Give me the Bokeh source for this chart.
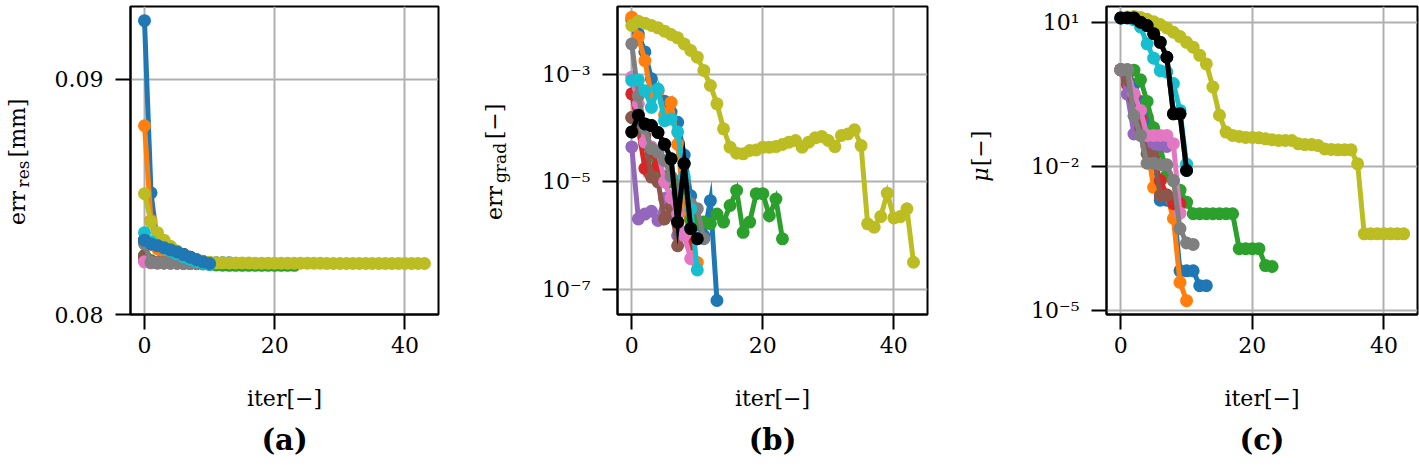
import math
from bokeh.plotting import figure
from bokeh.layouts import row, column
from bokeh.models import Range1d, FixedTicker, CustomJSTickFormatter, PrintfTickFormatter
from bokeh.core.properties import value
from bokeh.embed import file_html
from bokeh.resources import INLINE

# ---------------- data ----------------
run_colors = ["#1f77b4", "#ff7f0e", "#2ca02c", "#d62728", "#9467bd", "#8c564b",
              "#e377c2", "#7f7f7f", "#bcbd22", "#17becf", "#1f77b4", "#000000"]

# (a) residual error [mm]
res_run1 = [0.0925, 0.08517, 0.0830, 0.0825, 0.0823, 0.08225, 0.0822, 0.0822, 0.0822, 0.0822, 0.0822, 0.0822, 0.0822, 0.0822]
res_run2 = [0.08803, 0.0840, 0.0828, 0.0824, 0.0823, 0.08225, 0.0822, 0.0822, 0.0822, 0.0822, 0.0822]
res_run3 = [0.08252, 0.0823, 0.08222, 0.0822, 0.0822, 0.08219, 0.08218, 0.08217, 0.08216, 0.08215, 0.08213, 0.08211,
            0.0821, 0.08209, 0.08209, 0.08209, 0.08209, 0.08209, 0.08209, 0.08209, 0.08209, 0.08209, 0.08209, 0.08209]
res_run4 = [0.0824, 0.08222, 0.0822, 0.0822, 0.08219, 0.08219, 0.08218, 0.08218, 0.08218, 0.08218]
res_run5 = [0.0823, 0.0822, 0.0822, 0.08219, 0.08219, 0.08218, 0.08218, 0.08218]
res_run6 = [0.08248, 0.08225, 0.0822, 0.0822, 0.08219, 0.08219, 0.08218, 0.08218]
res_run7 = [0.08224, 0.0822, 0.08219, 0.08219, 0.08218, 0.08218, 0.08218, 0.08218, 0.08218, 0.08218]
res_run8 = [0.0830, 0.08222, 0.0822, 0.0822, 0.08219, 0.08219, 0.08218, 0.08218, 0.08218, 0.08218, 0.08218, 0.08218]
res_run9 = [0.08514, 0.08394, 0.08348, 0.08316, 0.0829, 0.0827, 0.0825, 0.0824, 0.08232, 0.08226, 0.08222,
            0.0822, 0.0822, 0.08219, 0.08219, 0.08219, 0.08219, 0.08218, 0.08218, 0.08218, 0.08218, 0.08218,
            0.08218, 0.08218, 0.08218, 0.08218, 0.08218, 0.08218, 0.08217, 0.08217, 0.08217, 0.08217, 0.08217,
            0.08217, 0.08217, 0.08217, 0.08217, 0.08217, 0.08217, 0.08217, 0.08217, 0.08217, 0.08217, 0.08217]
res_run10 = [0.08348, 0.0831, 0.08295, 0.08282, 0.0827, 0.08258, 0.08246, 0.08235, 0.08225, 0.08218, 0.08213]
res_run11 = [0.08316, 0.0830, 0.08292, 0.08284, 0.08275, 0.08266, 0.08255, 0.08244, 0.08233, 0.08224, 0.08217]
res_run12 = [0.08316, 0.0830, 0.08292, 0.08284, 0.08275, 0.08266, 0.08255, 0.08244, 0.08233, 0.08224, 0.08217]

# (b) gradient error [-]
grad_run1 = [1.05e-2, 5.75e-3, 2.63e-3, 8.3e-4, 5.0e-4, 3.16e-4, 2.0e-4, 1.29e-4, 3.16e-5, 5.5e-6, 1.58e-6, 1.0e-6, 4.47e-6, 6.17e-8]
grad_run2 = [1.17e-2, 5.0e-3, 1.82e-3, 4.07e-4, 5.0e-4, 1.78e-4, 3.02e-4, 5.0e-5, 3.16e-6, 7.94e-7, 3.16e-7]
grad_run3 = [1.58e-4, 1.26e-4, 5.0e-5, 3.16e-5, 1.58e-5, 1.26e-5, 1.0e-5, 1.0e-5, 1.0e-5, 2.0e-6, 1.66e-6, 1.78e-6,
             1.66e-6, 2.51e-6, 1.78e-6, 3.63e-6, 6.92e-6, 1.15e-6, 1.78e-6, 6.03e-6, 6.03e-6, 2.34e-6, 4.79e-6, 8.7e-7]
grad_run4 = [4.37e-4, 1.0e-4, 1.78e-5, 3.98e-5, 2.0e-5, 1.0e-5, 5.0e-6, 2.51e-6, 1.12e-6, 6.92e-7]
grad_run5 = [4.47e-5, 2.04e-6, 2.51e-6, 2.82e-6, 1.91e-6, 4.9e-6, 2.51e-6, 1.0e-6]
grad_run6 = [1.58e-4, 1.0e-4, 7.24e-5, 1.23e-5, 1.0e-5, 2.04e-6, 3.39e-6, 6.46e-7]
grad_run7 = [8.91e-4, 2.82e-4, 5.5e-5, 4.47e-5, 3.8e-5, 1.0e-5, 5.0e-6, 2.51e-6, 1.0e-6, 3.72e-7]
grad_run8 = [3.72e-3, 3.98e-4, 1.0e-4, 4.17e-5, 3.55e-5, 2.51e-5, 1.26e-5, 6.31e-6, 1.0e-5, 3.89e-6, 3.16e-6, 8.71e-7]
grad_run9 = [8.18e-3, 9.86e-3, 9.06e-3, 8.18e-3, 7.41e-3, 6.41e-3, 5.56e-3, 4.82e-3, 3.72e-3, 2.8e-3, 2.1e-3,
             1.19e-3, 6.24e-4, 2.84e-4, 9.73e-5, 4.43e-5, 3.42e-5, 3.33e-5, 3.84e-5, 3.94e-5, 4.43e-5, 4.43e-5,
             4.55e-5, 4.97e-5, 5.48e-5, 5.89e-5, 4.43e-5, 5.48e-5, 6.61e-5, 7.0e-5, 5.89e-5, 4.55e-5, 7.3e-5,
             7.83e-5, 9.31e-5, 4.75e-5, 1.65e-6, 1.43e-6, 2.26e-6, 6.15e-6, 2.13e-6, 2.26e-6, 3.14e-6, 3.18e-7]
grad_run10 = [7.76e-4, 7.94e-4, 5.0e-4, 2.45e-4, 5.37e-4, 1.38e-4, 1.48e-4, 8.51e-5, 1.26e-5, 3.16e-6, 2.29e-7]
grad_run11 = [8.51e-5, 1.74e-4, 1.2e-4, 1.12e-4, 8.32e-5, 5.01e-5, 2.69e-5, 1.78e-6, 2.19e-5, 1.35e-6, 8.71e-7]
grad_run12 = [8.51e-5, 1.74e-4, 1.2e-4, 1.12e-4, 8.32e-5, 5.01e-5, 2.69e-5, 1.78e-6, 2.19e-5, 1.35e-6, 8.71e-7]

# (c) damping parameter mu [-]
mu_run1 = [1.02, 1.0, 0.501, 0.224, 0.105, 0.0251, 1.95e-3, 1.95e-3, 1.78e-3, 6.61e-5, 6.61e-5, 6.61e-5, 3.24e-5, 3.24e-5]
mu_run2 = [1.02, 0.562, 0.316, 0.1, 0.0251, 3.63e-3, 5.01e-3, 2.51e-3, 8.13e-4, 3.8e-5, 1.58e-5]
mu_run3 = [1.02, 1.02, 1.0, 0.631, 0.224, 0.0631, 0.0251, 6.46e-3, 5.01e-3, 3.16e-3, 1.78e-3, 1.02e-3,
           1.02e-3, 1.02e-3, 1.02e-3, 1.02e-3, 1.02e-3, 1.02e-3, 1.91e-4, 1.91e-4, 1.91e-4, 1.91e-4, 8.51e-5, 8.13e-5]
mu_run4 = [1.02, 0.501, 0.275, 0.1, 0.0251, 0.0141, 5.01e-3, 2.51e-3, 1.66e-3, 1.66e-3]
mu_run5 = [1.02, 0.316, 0.0468, 0.0447, 0.0282, 0.0282, 0.0282, 0.0257]
mu_run6 = [1.02, 0.631, 0.251, 0.0631, 0.0182, 0.0158, 2.45e-3, 2.45e-3]
mu_run7 = [1.02, 1.02, 0.324, 0.145, 0.0437, 0.0437, 0.0437, 0.0437, 0.0295, 1.05e-3]
mu_run8 = [1.02, 1.02, 0.112, 0.0437, 0.0115, 0.0115, 0.0107, 0.0107, 5.01e-3, 5.01e-4, 2.51e-4, 2.34e-4]
mu_run9 = [12.3, 12.9, 13.2, 12.6, 11.5, 10.2, 8.91, 7.59, 6.17, 5.01, 3.8, 3.02, 2.04, 1.35, 0.447, 0.115,
           0.0513, 0.0437, 0.0417, 0.0398, 0.0398, 0.0389, 0.0372, 0.0355, 0.0343, 0.0343, 0.0343, 0.0292,
           0.0282, 0.0282, 0.0269, 0.0229, 0.0224, 0.0219, 0.0219, 0.0219, 0.0112, 3.89e-4, 3.89e-4, 3.89e-4,
           3.89e-4, 3.89e-4, 3.89e-4, 3.89e-4]
mu_run10 = [12.3, 12.3, 11.2, 7.94, 3.55, 1.78, 0.977, 0.912, 0.525, 0.145, 0.011]
mu_run11 = [12.3, 12.3, 12.3, 10.0, 8.51, 5.75, 3.8, 1.86, 0.123, 0.123, 8.13e-3]
mu_run12 = [12.3, 12.3, 12.3, 10.0, 8.51, 5.75, 3.8, 1.86, 0.123, 0.123, 8.13e-3]

res_runs = [res_run1, res_run2, res_run3, res_run4, res_run5, res_run6, res_run7, res_run8, res_run9, res_run10, res_run11, res_run12]
grad_runs = [grad_run1, grad_run2, grad_run3, grad_run4, grad_run5, grad_run6, grad_run7, grad_run8, grad_run9, grad_run10, grad_run11, grad_run12]
mu_runs = [mu_run1, mu_run2, mu_run3, mu_run4, mu_run5, mu_run6, mu_run7, mu_run8, mu_run9, mu_run10, mu_run11, mu_run12]

x_ticks = [0, 20, 40]
res_ticks = [0.08, 0.09]
grad_ticks = [1e-7, 1e-5, 1e-3]
mu_ticks = [1e-5, 1e-2, 1e1]
panel_names = ["(a)", "(b)", "(c)"]
x_label = "iter[\u2212]"

# ---------------- styling ----------------
FONT = "DejaVu Serif"
H_TOP = 370          # height of the plot row
FRAME_TOP = 6        # frame top (px from top) - frames of a row are aligned
FRAME_BOTTOM = 314   # frame bottom (px from top)
W_TOTAL = 1419
H_STRIP = 466 - H_TOP

sup_fmt = CustomJSTickFormatter(code="""
const e = Math.round(Math.log10(tick));
const m = {"-": "\\u207b", "0": "\\u2070", "1": "\\u00b9", "2": "\\u00b2", "3": "\\u00b3",
           "4": "\\u2074", "5": "\\u2075", "6": "\\u2076", "7": "\\u2077", "8": "\\u2078", "9": "\\u2079"};
return "10" + String(e).split("").map(c => m[c]).join("");
""")


def make_fig(width, bl, br, xr, yr, ytype):
    p = figure(width=width, height=H_TOP, x_range=Range1d(*xr), y_range=Range1d(*yr),
               y_axis_type=ytype, output_backend="svg", toolbar_location=None,
               min_border_left=bl, min_border_right=br, min_border_top=FRAME_TOP,
               min_border_bottom=H_TOP - FRAME_BOTTOM,
               background_fill_color="white", border_fill_color="white")
    p.outline_line_color = "black"
    p.outline_line_width = 2
    p.outline_line_alpha = 1
    for ax in p.axis:
        ax.axis_line_width = 2
        ax.axis_line_color = "black"
        ax.major_tick_line_width = 2
        ax.major_tick_line_color = "black"
        ax.major_tick_out = 15
        ax.major_tick_in = 0
        ax.minor_tick_line_color = None
        ax.major_label_text_font = FONT
        ax.major_label_text_font_size = "22px"
        ax.major_label_text_color = "black"
    p.xaxis.ticker = FixedTicker(ticks=x_ticks, minor_ticks=[])
    p.xaxis.major_label_standoff = 7
    p.yaxis.major_label_standoff = 12
    p.grid.grid_line_color = "#b0b0b0"
    p.grid.grid_line_width = 2
    p.grid.grid_line_alpha = 1
    return p


def label_fig(width):
    # sits in the plot row: its frame is aligned with the plots' frames (FRAME_TOP..FRAME_BOTTOM),
    # so the y range is chosen such that data y == H_TOP - page y
    f = figure(width=width, height=H_TOP, x_range=Range1d(0, width),
               y_range=Range1d(H_TOP - FRAME_BOTTOM, H_TOP - FRAME_TOP),
               output_backend="svg", toolbar_location=None, x_axis_location=None, y_axis_location=None,
               min_border_left=0, min_border_right=0, min_border_top=FRAME_TOP,
               min_border_bottom=H_TOP - FRAME_BOTTOM,
               background_fill_color="white", border_fill_color="white", outline_line_color=None)
    f.grid.visible = False
    return f


def strip_fig(width, height):
    f = figure(width=width, height=height, x_range=Range1d(0, width), y_range=Range1d(0, height),
               output_backend="svg", toolbar_location=None, x_axis_location=None, y_axis_location=None,
               min_border=0, min_border_left=0, min_border_right=0, min_border_top=0, min_border_bottom=0,
               background_fill_color="white", border_fill_color="white", outline_line_color=None)
    f.grid.visible = False
    return f


def add_series(p, runs, order):
    for i in order:
        ys = runs[i]
        xs = list(range(len(ys)))
        p.line(xs, ys, line_color=run_colors[i], line_width=5, line_join="miter")
        p.scatter(xs, ys, size=13, fill_color=run_colors[i], line_color=None)


def put(f, txt, x, y, size, angle=0.0, style="normal"):
    # (x, y) is the centre of the text box
    f.text(x=[x], y=[y], text=[txt], angle=angle, text_align="center", text_baseline="middle",
           text_font=value(FONT), text_font_size=f"{size}px", text_font_style=style, text_color="black")


R = math.pi / 2

# layout widths: ylab_a 45 | pa 425 | ylab_b 45 | pb 450 | ylab_c 35 | pc 419  = 1419
ya = label_fig(45)
put(ya, "err", 17, H_TOP - 207.5, 22, angle=R)
put(ya, "res", 22, H_TOP - 173.5, 17, angle=R)
put(ya, "[mm]", 17, H_TOP - 127.5, 22, angle=R)

pa = make_fig(425, 85, 32, (-2.15, 45.15), (0.08, 0.093102), "linear")
pa.yaxis.ticker = FixedTicker(ticks=res_ticks, minor_ticks=[])
pa.yaxis.formatter = PrintfTickFormatter(format="%.2f")
add_series(pa, res_runs, [11, 0, 1, 2, 3, 4, 5, 6, 7, 8, 9, 10])

yb = label_fig(45)
put(yb, "err", 24, H_TOP - 202.5, 22, angle=R)
put(yb, "grad", 29, H_TOP - 162.5, 17, angle=R)
put(yb, "[\u2212]", 24, H_TOP - 121, 22, angle=R)

pb = make_fig(450, 102, 38, (-2.18, 45.14), (10 ** -7.471, 10 ** -1.733), "log")
pb.yaxis.ticker = FixedTicker(ticks=grad_ticks, minor_ticks=[])
pb.yaxis.formatter = sup_fmt
add_series(pb, grad_runs, list(range(12)))

yc = label_fig(35)
put(yc, "\u03bc", 15, H_TOP - 174, 22, angle=R, style="italic")
put(yc, "[\u2212]", 15, H_TOP - 148, 22, angle=R)

pc = make_fig(419, 106, 2, (-2.17, 45.1), (10 ** -5.09, 10 ** 1.327), "log")
pc.yaxis.ticker = FixedTicker(ticks=mu_ticks, minor_ticks=[])
pc.yaxis.formatter = sup_fmt
add_series(pc, mu_runs, list(range(12)))

# bottom strip with x-axis titles and panel letters
strip = strip_fig(W_TOTAL, H_STRIP)
frame_centres = [284, 772, 1261.5]
for cx, name in zip(frame_centres, panel_names):
    put(strip, x_label, cx, 466 - 398, 22)
    put(strip, name, cx, 466 - 439, 29, style="bold")

layout = column(row(ya, pa, yb, pb, yc, pc), strip)
open("out.html", "w").write(file_html(layout, INLINE))
